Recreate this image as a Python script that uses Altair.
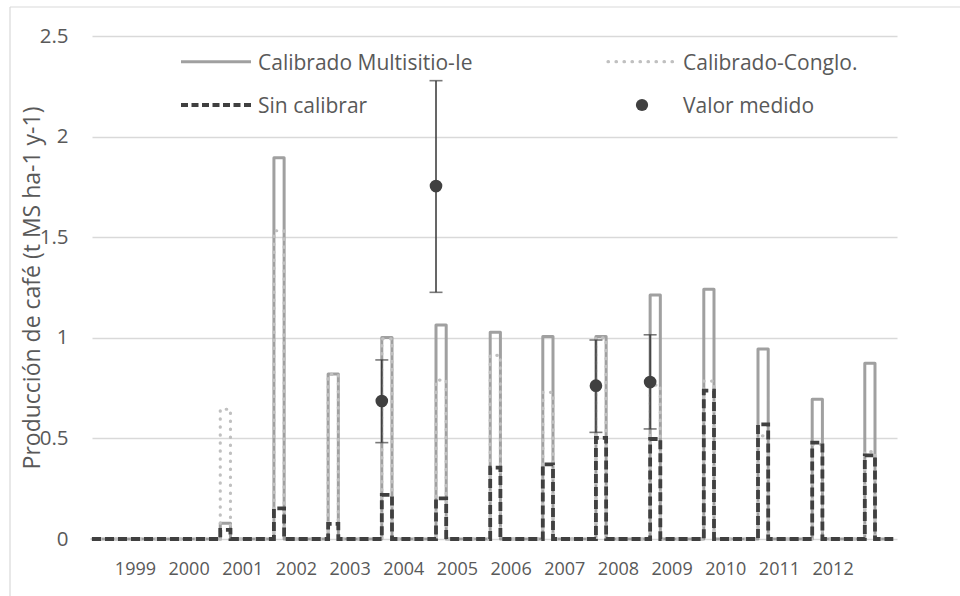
import altair as alt
import pandas as pd

# Year labels on the horizontal axis
years = [1999, 2000, 2001, 2002, 2003, 2004, 2005, 2006, 2007, 2008, 2009, 2010, 2011, 2012]

# Harvest pulses: start and end of each pulse (decimal year)
pulse_start = [2000.59, 2001.59, 2002.60, 2003.60, 2004.61, 2005.62, 2006.60,
               2007.59, 2008.60, 2009.60, 2010.61, 2011.62, 2012.60]
pulse_end = [2000.78, 2001.78, 2002.79, 2003.79, 2004.80, 2005.81, 2006.79,
             2007.78, 2008.79, 2009.79, 2010.80, 2011.81, 2012.79]
series_start = 1998.2
series_end = 2013.13

# Simulated coffee production per pulse (t MS ha-1 y-1)
calib_multisitio = [0.078, 1.895, 0.820, 1.002, 1.063, 1.027, 1.006,
                    1.006, 1.213, 1.241, 0.944, 0.694, 0.873]
calib_conglo = [0.645, 1.532, 0.818, 0.995, 0.790, 0.913, 0.729,
                1.000, 0.765, 0.785, 0.513, 0.470, 0.434]
sin_calibrar = [0.045, 0.152, 0.075, 0.219, 0.202, 0.355, 0.371,
                0.503, 0.497, 0.737, 0.570, 0.479, 0.416]

# Measured values with their ranges
medido_t = [2003.60, 2004.61, 2007.59, 2008.60]
medido_v = [0.686, 1.754, 0.762, 0.780]
medido_lo = [0.479, 1.226, 0.530, 0.547]
medido_hi = [0.890, 2.278, 0.989, 1.015]


def step_table(values):
    rows = [(series_start, 0.0)]
    for s, e, v in zip(pulse_start, pulse_end, values):
        rows += [(s, 0.0), (s, v), (e, v), (e, 0.0)]
    rows.append((series_end, 0.0))
    return pd.DataFrame([{"t": t, "v": v, "i": k} for k, (t, v) in enumerate(rows)])


df_multi = step_table(calib_multisitio)
df_conglo = step_table(calib_conglo)
df_sin = step_table(sin_calibrar)
df_med = pd.DataFrame({"t": medido_t, "v": medido_v, "lo": medido_lo, "hi": medido_hi})

FONT = "Open Sans"
TXT = "#595959"
GRID = "#d9d9d9"

x_enc = alt.X(
    "t:Q",
    scale=alt.Scale(domain=[1998.2, 2013.2], nice=False, zero=False),
    axis=alt.Axis(
        values=years, format="d", grid=False, domain=False, ticks=False, tickSize=0,
        labelFont=FONT, labelFontSize=18, labelColor=TXT, labelPadding=35,
        labelBaseline="alphabetic", title=None,
    ),
)
y_enc = alt.Y(
    "v:Q",
    scale=alt.Scale(domain=[0, 2.5], nice=False),
    axis=alt.Axis(
        values=[0, 0.5, 1, 1.5, 2, 2.5], labelExpr="datum.value + ''",
        grid=True, gridColor=GRID, gridWidth=1.3, domain=False, ticks=False, tickSize=0,
        labelFont=FONT, labelFontSize=20.5, labelColor=TXT, labelPadding=24,
        title="Producción de café (t MS ha-1 y-1)", titleFont=FONT, titleFontSize=23,
        titleFontWeight="normal", titleColor=TXT, titleAngle=270, titleX=-60,
        titleY=251.5, titleAlign="center", titleBaseline="middle",
    ),
)

solid = alt.Chart(df_multi).mark_line(
    color="#a0a0a0", strokeWidth=3, strokeJoin="round"
).encode(x=x_enc, y=y_enc, order="i:Q")

dotted = alt.Chart(df_conglo).mark_line(
    color="#c0c0c0", strokeWidth=3.2, strokeDash=[0.5, 7.5], strokeCap="round"
).encode(x=x_enc, y=y_enc, order="i:Q")

dashed = alt.Chart(df_sin).mark_line(
    color="#404040", strokeWidth=3.8, strokeDash=[9, 4]
).encode(x=x_enc, y=y_enc, order="i:Q")

err = alt.Chart(df_med).mark_rule(color="#404040", strokeWidth=1.6).encode(
    x=x_enc, y=alt.Y("lo:Q", scale=alt.Scale(domain=[0, 2.5], nice=False)), y2="hi:Q"
)
cap_lo = alt.Chart(df_med).mark_tick(
    color="#404040", thickness=1.6, size=13, orient="horizontal"
).encode(x=x_enc, y=alt.Y("lo:Q", scale=alt.Scale(domain=[0, 2.5], nice=False)))
cap_hi = alt.Chart(df_med).mark_tick(
    color="#404040", thickness=1.6, size=13, orient="horizontal"
).encode(x=x_enc, y=alt.Y("hi:Q", scale=alt.Scale(domain=[0, 2.5], nice=False)))
pts = alt.Chart(df_med).mark_point(
    filled=True, color="#404040", size=160, opacity=1
).encode(x=x_enc, y=y_enc)

# Legend drawn inside the plot area, two columns
one = alt.Data(values=[{}])
leg = [
    alt.Chart(one).mark_rule(color="#a0a0a0", strokeWidth=3).encode(
        x=alt.value(89), x2=alt.value(159), y=alt.value(25.7)),
    alt.Chart(one).mark_rule(color="#c0c0c0", strokeWidth=3.2, strokeDash=[0.5, 7.5],
                             strokeCap="round").encode(
        x=alt.value(516), x2=alt.value(582), y=alt.value(25.7)),
    alt.Chart(one).mark_rule(color="#404040", strokeWidth=3.8, strokeDash=[7, 3.5]).encode(
        x=alt.value(89), x2=alt.value(159), y=alt.value(69)),
    alt.Chart(one).mark_point(filled=True, color="#404040", size=150, opacity=1).encode(
        x=alt.value(550), y=alt.value(69)),
]
for label, lx, ly in [("Calibrado Multisitio-Ie", 166, 33.5), ("Calibrado-Conglo.", 591, 33.5),
                      ("Sin calibrar", 166, 76.7), ("Valor medido", 591, 76.7)]:
    leg.append(alt.Chart(one).mark_text(
        text=label, align="left", baseline="alphabetic", font=FONT, fontSize=21, color=TXT
    ).encode(x=alt.value(lx), y=alt.value(ly)))

# Chart-area frame (top and left edges)
frame = [
    alt.Chart(one).mark_rule(color=GRID, strokeWidth=1.2).encode(
        x=alt.value(-82), x2=alt.value(900), y=alt.value(-29)),
    alt.Chart(one).mark_rule(color=GRID, strokeWidth=1.2).encode(
        x=alt.value(-82), y=alt.value(-29), y2=alt.value(600)),
]

chart = alt.layer(
    *frame, solid, dotted, dashed, err, cap_lo, cap_hi, pts, *leg
).properties(
    width=805, height=503,
    padding={"left": 92, "top": 36, "right": 63, "bottom": 57},
    autosize=alt.AutoSizeParams(type="none"),
    background="white",
).configure_view(stroke=None)

chart.save("out.html", embed_options={"renderer": "svg", "actions": False})
